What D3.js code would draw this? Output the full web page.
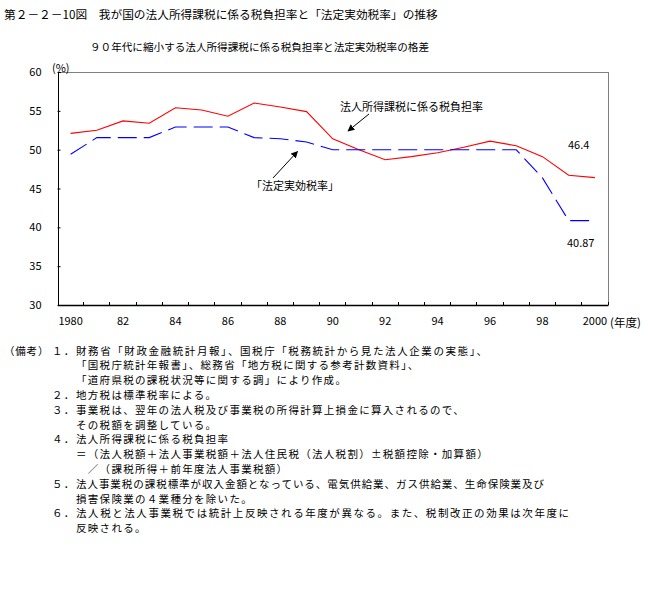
<!DOCTYPE html>
<html><head><meta charset="utf-8">
<script src="https://cdn.jsdelivr.net/npm/d3@7"></script>
<style>
body{margin:0;background:#fff;}
svg text{font-family:"Noto Sans CJK JP","Noto Sans",sans-serif;fill:#000;}
</style></head>
<body><svg id="c" width="649" height="600"></svg>
<script>
const years = d3.range(1980, 2001);
const burdenRate = [52.1, 52.5, 53.7, 53.4, 55.4, 55.1, 54.3, 56.0, 55.5, 54.9, 51.4, 50.0, 48.7, 49.1, 49.6, 50.3, 51.1, 50.5, 49.1, 46.7, 46.4];
const statutoryRate = [49.4, 51.55, 51.55, 51.55, 52.92, 52.92, 52.92, 51.55, 51.4, 50.99, 49.98, 49.98, 49.98, 49.98, 49.98, 49.98, 49.98, 49.98, 46.36, 40.87, 40.87];
const xTickLabels = {1980:"1980",1982:"82",1984:"84",1986:"86",1988:"88",1990:"90",1992:"92",1994:"94",1996:"96",1998:"98",2000:"2000"};
const yTicks = [30, 35, 40, 45, 50, 55, 60];
const title = "第２－２－10図　我が国の法人所得課税に係る税負担率と「法定実効税率」の推移";
const subtitle = "９０年代に縮小する法人所得課税に係る税負担率と法定実効税率の格差";
const seriesLabels = ["法人所得課税に係る税負担率", "「法定実効税率」"];
const endLabels = ["46.4", "40.87"];
const notes = [
  ["（備考）", "１．", "財務省「財政金融統計月報」、国税庁「税務統計から見た法人企業の実態」、"],
  ["", "", "「国税庁統計年報書」、総務省「地方税に関する参考計数資料」、"],
  ["", "", "「道府県税の課税状況等に関する調」により作成。"],
  ["", "２．", "地方税は標準税率による。"],
  ["", "３．", "事業税は、翌年の法人税及び事業税の所得計算上損金に算入されるので、"],
  ["", "", "その税額を調整している。"],
  ["", "４．", "法人所得課税に係る税負担率"],
  ["", "", "＝（法人税額＋法人事業税額＋法人住民税（法人税割）±税額控除・加算額）"],
  ["", "", "　／（課税所得＋前年度法人事業税額）"],
  ["", "５．", "法人事業税の課税標準が収入金額となっている、電気供給業、ガス供給業、生命保険業及び"],
  ["", "", "損害保険業の４業種分を除いた。"],
  ["", "６．", "法人税と法人事業税では統計上反映される年度が異なる。また、税制改正の効果は次年度に"],
  ["", "", "反映される。"]
];
// reference text widths for the longest note lines (layout only; null = natural)
const noteWidths = [411, null, null, null, null, null, null, null, null, 468, null, 493, null];

const svg = d3.select("#c");
const L = 57.5, R = 608, T = 72, B = 305;
const x = d3.scaleBand().domain(years).range([L, R]).padding(0);
const y = d3.scaleLinear().domain([30, 60]).range([B, T]);
const cx = d => x(d) + x.bandwidth() / 2;

svg.append("text").attr("x", 4).attr("y", 13).attr("dominant-baseline", "central")
  .style("font-size", "11.7px").text(title);
svg.append("text").attr("x", 90).attr("y", 46).attr("dominant-baseline", "central")
  .style("font-size", "10.6px").text(subtitle);

// border (top/right)
svg.append("path").attr("d", `M${L},${T}H${R}V${B}`).attr("fill", "none")
  .attr("stroke", "#808080").attr("stroke-width", 1).attr("shape-rendering", "crispEdges");

// Y axis
const yAxis = svg.append("g").attr("transform", `translate(${L},0)`)
  .call(d3.axisLeft(y).tickValues(yTicks).tickSize(-3).tickPadding(16).tickFormat(d3.format("d")));
yAxis.select(".domain").attr("stroke", "#000").attr("shape-rendering", "crispEdges");
yAxis.selectAll(".tick line").attr("stroke", "#000");
yAxis.selectAll("text").style("font-size", "11px").attr("font-family", null);

// X axis
const xAxis = svg.append("g").attr("transform", `translate(0,${B})`)
  .call(d3.axisBottom(x).tickSize(0).tickPadding(12).tickFormat(d => xTickLabels[d] || ""));
xAxis.select(".domain").attr("stroke", "#000").attr("stroke-width", 1.3);
xAxis.selectAll("text").style("font-size", "11px").attr("font-family", null);
svg.append("g").selectAll("line").data(years.slice(1).concat([null])).join("line")
  .attr("x1", d => d === null ? R : x(d)).attr("x2", d => d === null ? R : x(d))
  .attr("y1", B).attr("y2", B - 3).attr("stroke", "#000").attr("shape-rendering", "crispEdges");

svg.append("text").attr("x", 52).attr("y", 67).attr("dominant-baseline", "central")
  .style("font-size", "11px").text("(%)");
svg.append("text").attr("x", 610).attr("y", 322).attr("dominant-baseline", "central")
  .style("font-size", "11.5px").text("(年度)");

const line = d3.line().x((d, i) => cx(years[i])).y(d => y(d));
svg.append("path").datum(burdenRate).attr("d", line).attr("fill", "none")
  .attr("stroke", "#ff0000").attr("stroke-width", 1.1);
svg.append("path").datum(statutoryRate).attr("d", line).attr("fill", "none")
  .attr("stroke", "#0000ff").attr("stroke-width", 1.1).attr("stroke-dasharray", "19,7");

// arrow marker
svg.append("defs").append("marker").attr("id", "ah").attr("viewBox", "0 0 10 10")
  .attr("refX", 9).attr("refY", 5).attr("markerWidth", 7).attr("markerHeight", 7)
  .attr("orient", "auto").append("path").attr("d", "M0,0L10,5L0,10z").attr("fill", "#000");

svg.append("text").attr("x", 340).attr("y", 106).attr("dominant-baseline", "central")
  .style("font-size", "11px").text(seriesLabels[0]);
svg.append("line").attr("x1", 369).attr("y1", 114).attr("x2", 348).attr("y2", 131)
  .attr("stroke", "#000").attr("marker-end", "url(#ah)");
svg.append("text").attr("x", 251).attr("y", 185).attr("dominant-baseline", "central")
  .style("font-size", "11px").text(seriesLabels[1]);
svg.append("line").attr("x1", 273).attr("y1", 178).attr("x2", 297.5).attr("y2", 151.5)
  .attr("stroke", "#000").attr("marker-end", "url(#ah)");

svg.append("text").attr("x", 568).attr("y", 144).attr("dominant-baseline", "central")
  .style("font-size", "11px").text(endLabels[0]);
svg.append("text").attr("x", 567).attr("y", 242).attr("dominant-baseline", "central")
  .style("font-size", "11px").text(endLabels[1]);

// notes
const ng = svg.append("g").style("font-size", "10.5px");
notes.forEach((n, i) => {
  const yy = 350 + i * 14.8;
  if (n[0]) ng.append("text").attr("x", 4).attr("y", yy).attr("dominant-baseline", "central")
    .style("letter-spacing", "0.8px").text(n[0]);
  if (n[1]) ng.append("text").attr("x", 52).attr("y", yy).attr("dominant-baseline", "central")
    .style("letter-spacing", "1.3px").text(n[1]);
  const t = ng.append("text").attr("x", 76).attr("y", yy).attr("dominant-baseline", "central").text(n[2]);
  if (noteWidths[i]) t.attr("textLength", noteWidths[i]).attr("lengthAdjust", "spacing");
  else t.style("letter-spacing", "1.3px");
});
</script></body></html>
